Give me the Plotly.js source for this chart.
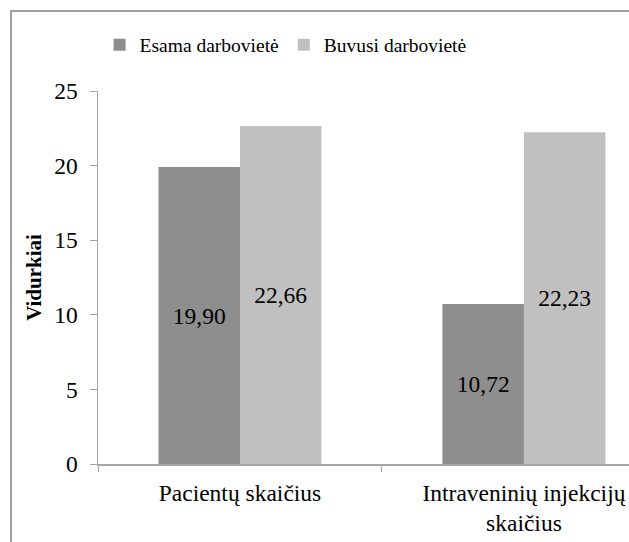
<!DOCTYPE html>
<html>
<head>
<meta charset="utf-8">
<script src="https://cdn.plot.ly/plotly-3.0.1.min.js"></script>
<style>html,body{margin:0;padding:0;background:#fff;}#chart{width:629px;height:542px;}</style>
</head>
<body>
<div id="chart"></div>
<script>
const categories = ["Pacientų skaičius", "Intraveninių injekcijų<br>skaičius"];
const seriesNames = ["Esama darbovietė", "Buvusi darbovietė"];
const esama = [19.90, 10.72];
const buvusi = [22.66, 22.23];
const yTicks = [0, 5, 10, 15, 20, 25];
const yTitle = "Vidurkiai";

const serif = "Liberation Serif";

const traces = [
  {type: "bar", name: seriesNames[0], x: categories, y: esama,
   marker: {color: "#8e8e8e"},
   texttemplate: "%{y:.2f}", textposition: "inside", insidetextanchor: "middle",
   textfont: {family: serif, size: 23.5, color: "#000"}, hoverinfo: "none"},
  {type: "bar", name: seriesNames[1], x: categories, y: buvusi,
   marker: {color: "#c0c0c0"},
   texttemplate: "%{y:.2f}", textposition: "inside", insidetextanchor: "middle",
   textfont: {family: serif, size: 23.5, color: "#000"}, hoverinfo: "none"}
];

const layout = {
  width: 629, height: 542,
  margin: {l: 98, r: 0, t: 91, b: 78},
  paper_bgcolor: "#fff", plot_bgcolor: "#fff",
  separators: ", ",
  barmode: "group", bargap: 0.426, bargroupgap: 0,
  font: {family: serif, color: "#000"},
  showlegend: true,
  legend: {orientation: "h", x: 0.003, xanchor: "left", y: 1.123, yanchor: "middle",
           font: {family: serif, size: 19.5, color: "#000"}, traceorder: "normal"},
  xaxis: {type: "category", range: [-0.5, 1.37], showline: true, linecolor: "#a6a6a6", linewidth: 1.5,
          ticks: "outside", tickson: "boundaries", ticklen: 6, tickcolor: "#a6a6a6",
          tickfont: {family: serif, size: 23.5, color: "#000"}, showgrid: false, zeroline: false,
          ticklabelstandoff: 7},
  yaxis: {range: [0, 25], tickvals: yTicks, showline: true, linecolor: "#a6a6a6", linewidth: 1.5,
          ticks: "outside", ticklen: 7, tickcolor: "#a6a6a6", showgrid: false, zeroline: false,
          tickfont: {family: serif, size: 23.5, color: "#000"}, ticklabelstandoff: 7,
          title: {text: "<b>" + yTitle + "</b>", standoff: 7, font: {family: serif, size: 21, color: "#000"}}},
  shapes: [{type: "rect", xref: "paper", yref: "paper", x0: -0.1638, x1: 1.2, y0: -0.4, y1: 1.2145,
            line: {color: "#808080", width: 1.5}, fillcolor: "rgba(0,0,0,0)", layer: "below"}]
};

Plotly.newPlot("chart", traces, layout, {staticPlot: true, displayModeBar: false});
</script>
</body>
</html>
